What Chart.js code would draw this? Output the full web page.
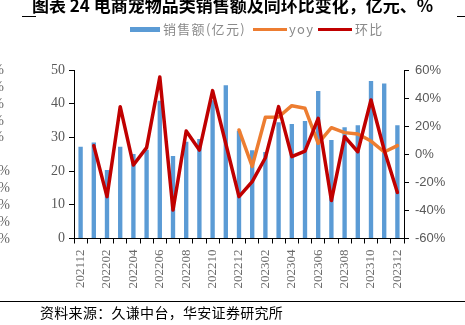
<!DOCTYPE html>
<html>
<head>
<meta charset="utf-8">
<script src="https://cdn.jsdelivr.net/npm/chart.js@4.4.0/dist/chart.umd.min.js"></script>
<style>
  html, body { margin:0; padding:0; background:#fff; }
  body { width:465px; height:325px; position:relative; overflow:hidden; font-family:"Noto Sans CJK SC", sans-serif; }
  #wrap { position:absolute; left:0; top:0; width:465px; height:325px; }
  .title { position:absolute; left:0; width:465px; top:-6px; text-align:center; font-size:17px; font-weight:bold; color:#000; white-space:nowrap; line-height:22px; }
  .rule { position:absolute; height:1px; background:#000; }
  .legend { position:absolute; top:20px; left:0; height:18px; font-size:13px; color:#8a8a8a; }
  .lg { position:absolute; top:0; line-height:18px; white-space:nowrap; letter-spacing:1.3px; }
  .sw { position:absolute; }
  .src { position:absolute; left:40px; top:302px; font-size:14px; color:#000; line-height:20px; white-space:nowrap; letter-spacing:0.3px; }
  .stray { position:absolute; width:40px; text-align:right; font-family:"Liberation Serif", serif; font-size:14px; color:#666; line-height:16px; }
</style>
</head>
<body>
<div id="wrap"><canvas id="c" width="465" height="325"></canvas></div>
<div class="rule" style="left:22px;width:14px;top:16px;"></div>
<div class="rule" style="left:457px;width:8px;top:16px;"></div>
<div class="title">图表 24 电商宠物品类销售额及同环比变化，亿元、%</div>
<div class="legend">
  <div class="sw" style="left:130px;top:7px;width:30px;height:5px;background:#5B9BD5;"></div>
  <div class="lg" style="left:163px;">销售额(亿元)</div>
  <div class="sw" style="left:253px;top:8px;width:34px;height:3px;background:#ED7D31;"></div>
  <div class="lg" style="left:289px;">yoy</div>
  <div class="sw" style="left:318px;top:8px;width:34px;height:3px;background:#C00000;"></div>
  <div class="lg" style="left:355px;">环比</div>
</div>
<div class="rule" style="left:0;width:465px;top:301px;"></div>
<div class="src">资料来源：久谦中台，华安证券研究所</div>
<div id="stray"></div>
<script>
const categories = ["202112","202201","202202","202203","202204","202205","202206","202207","202208","202209","202210","202211","202212","202301","202302","202303","202304","202305","202306","202307","202308","202309","202310","202311","202312"];
const sales = [27.2, 28.5, 20.3, 27.2, 25.1, 26.3, 40.9, 24.5, 28.7, 29.5, 41.0, 45.5, 32.0, 26.2, 25.7, 34.5, 34.0, 34.9, 43.8, 29.2, 33.0, 33.6, 46.7, 46.0, 33.6];
const yoy = [null, null, null, null, null, null, null, null, null, null, null, null, 17.3, -8.6, 26.3, 26.5, 34.6, 32.7, 7.8, 18.9, 15.4, 14.4, 9.4, 1.6, 6.1];
const mom = [null, 6.1, -30.2, 33.9, -7.7, 4.7, 55.0, -39.7, 16.6, 3.0, 45.3, 7.5, -30.2, -19.5, -2.5, 33.9, -1.7, 2.2, 25.6, -33.0, 12.5, 1.8, 38.6, 3.0, -27.2];
const leftTicks = [0, 5, 10, 15, 20, 25, 30, 35, 40, 45, 50];
const rightTicks = [-60, -40, -20, 0, 20, 40, 60];
const strayLabels = ["%", "%", "%", "%", "%", "", "%", "%", "%", "%", "%"];

(function(){
  const host = document.getElementById('stray');
  strayLabels.forEach((t, i) => {
    if (!t) return;
    const d = document.createElement('div');
    d.className = 'stray';
    d.textContent = t;
    const y = 70 + i * 16.85;
    d.style.top = (y - 8) + 'px';
    const right = i < 5 ? 4 : 10;
    d.style.left = (right - 40) + 'px';
    host.appendChild(d);
  });
})();

const tickColor = '#595959';
new Chart(document.getElementById('c'), {
  data: {
    labels: categories,
    datasets: [
      { type:'line', label:'环比', data: mom, yAxisID:'y1', borderColor:'#C00000', backgroundColor:'#C00000', borderWidth:3.5, pointRadius:0, tension:0, borderJoinStyle:'round', borderCapStyle:'round', order:1 },
      { type:'line', label:'yoy', data: yoy, yAxisID:'y1', borderColor:'#ED7D31', backgroundColor:'#ED7D31', borderWidth:3.5, pointRadius:0, tension:0, borderJoinStyle:'round', borderCapStyle:'round', order:2 },
      { type:'bar', label:'销售额(亿元)', data: sales, yAxisID:'y', backgroundColor:'#5B9BD5', barPercentage:0.33, categoryPercentage:1.0, order:3 }
    ]
  },
  options: {
    responsive:false,
    animation:false,
    devicePixelRatio:1,
    layout:{ padding:{ top:70, left:0, right:0, bottom:0 } },
    plugins:{ legend:{ display:false }, tooltip:{ enabled:false }, title:{ display:false } },
    scales:{
      x:{
        type:'category',
        offset:true,
        grid:{ display:true, drawOnChartArea:false, offset:true, color:'#000', tickLength:5, tickWidth:1 },
        border:{ display:true, color:'#000', width:1 },
        ticks:{ autoSkip:false, minRotation:90, maxRotation:90, padding:6, color:'#6a6a6a',
          font:{ family:'"Liberation Serif", serif', size:13 },
          callback:function(v, i){ return i % 2 === 0 ? categories[i] : ''; } },
        afterFit:function(s){ s.height = 325 - 238.5; }
      },
      y:{
        position:'left', min:0, max:50,
        afterBuildTicks:function(s){ s.ticks = leftTicks.map(v => ({value:v})); },
        grid:{ drawOnChartArea:false, color:'#000', tickLength:5 },
        border:{ display:true, color:'#000', width:1 },
        ticks:{ color:tickColor, padding:4, font:{ family:'"Liberation Serif", serif', size:14 } },
        afterFit:function(s){ s.width = 74; }
      },
      y1:{
        position:'right', min:-60, max:60,
        afterBuildTicks:function(s){ s.ticks = rightTicks.map(v => ({value:v})); },
        grid:{ drawOnChartArea:false, color:'#000', tickLength:5 },
        border:{ display:true, color:'#000', width:1 },
        ticks:{ color:tickColor, padding:6, font:{ family:'"Liberation Sans", sans-serif', size:13 },
          callback:function(v){ return v + '%'; } },
        afterFit:function(s){ s.width = 61; }
      }
    }
  }
});
</script>
</body>
</html>
